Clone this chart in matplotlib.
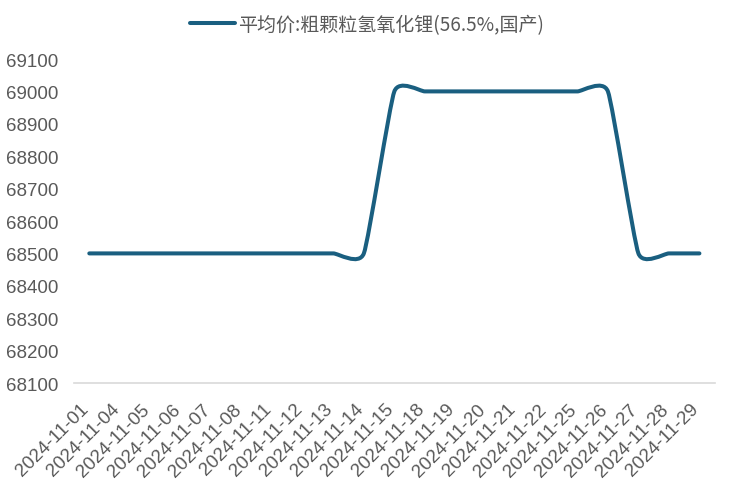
import numpy as np
import matplotlib
matplotlib.use('Agg')
import matplotlib.pyplot as plt
import matplotlib.transforms as mtransforms
from matplotlib.path import Path
from matplotlib.patches import PathPatch
from matplotlib.lines import Line2D

# ==================== 字体设置 ====================
plt.rcParams['font.family'] = ['Liberation Sans', 'Noto Sans CJK SC', 'DejaVu Sans']

# ==================== 数据 ====================
dates = ['2024-11-01', '2024-11-04', '2024-11-05', '2024-11-06', '2024-11-07',
         '2024-11-08', '2024-11-11', '2024-11-12', '2024-11-13', '2024-11-14',
         '2024-11-15', '2024-11-18', '2024-11-19', '2024-11-20', '2024-11-21',
         '2024-11-22', '2024-11-25', '2024-11-26', '2024-11-27', '2024-11-28',
         '2024-11-29']
prices = [68500, 68500, 68500, 68500, 68500,
          68500, 68500, 68500, 68500, 68500,
          69000, 69000, 69000, 69000, 69000,
          69000, 69000, 69000, 68500, 68500,
          68500]
series_name = '平均价:粗颗粒氢氧化锂(56.5%,国产)'
yticks = list(range(68100, 69101, 100))

LINE_COLOR = '#1a5f80'
TEXT_COLOR = '#595959'

# ==================== 平滑曲线（贝塞尔，类似Excel平滑线） ====================
pts = np.column_stack([np.arange(len(prices)), np.array(prices, dtype=float)])
k = 0.48  # 平滑张力
n = len(pts)
verts = [pts[0]]
codes = [Path.MOVETO]
for i in range(n - 1):
    p0 = pts[max(i - 1, 0)]
    p1 = pts[i]
    p2 = pts[i + 1]
    p3 = pts[min(i + 2, n - 1)]
    c1 = p1 + k * (p2 - p0) / 6
    c2 = p2 - k * (p3 - p1) / 6
    verts += [c1, c2, p2]
    codes += [Path.CURVE4] * 3
curve = Path(np.array(verts), codes)

# ==================== 绘图 ====================
fig = plt.figure(figsize=(7.33, 4.89), dpi=100)
ax = fig.add_axes([0.101, 0.2147, 0.874, 0.6626])

patch = PathPatch(curve, fill=False, edgecolor=LINE_COLOR, linewidth=2.9,
                  capstyle='round', joinstyle='round')
ax.add_patch(patch)

ax.set_xlim(-0.5, len(dates) - 0.5)
ax.set_ylim(68100, 69100)

# ==================== 刻度与坐标轴样式 ====================
ax.set_yticks(yticks)
ax.set_yticklabels([str(v) for v in yticks], fontsize=13.5, color=TEXT_COLOR)
ax.set_xticks(range(len(dates)))
ax.set_xticklabels(dates, rotation=45, ha='right', va='baseline',
                   rotation_mode='anchor', fontsize=13.5, color=TEXT_COLOR)
shift = mtransforms.ScaledTranslation(0.04, 0, fig.dpi_scale_trans)
for lbl in ax.get_xticklabels():
    lbl.set_transform(lbl.get_transform() + shift)
ax.tick_params(axis='both', length=0)
ax.tick_params(axis='y', pad=11.5)
ax.tick_params(axis='x', pad=19)

for s in ['left', 'right', 'top']:
    ax.spines[s].set_visible(False)
ax.spines['bottom'].set_color('#d9d9d9')
ax.spines['bottom'].set_linewidth(1.2)

# ==================== 图例 ====================
handle = Line2D([0], [0], color=LINE_COLOR, linewidth=2.9, solid_capstyle='round')
fig.legend(handles=[handle], labels=[series_name], loc='upper center',
           bbox_to_anchor=(0.5, 1.005), frameon=False, handlelength=2.4,
           handletextpad=0.12,
           prop={'family': ['Noto Sans CJK SC', 'DejaVu Sans'], 'size': 13.7},
           labelcolor=TEXT_COLOR)

fig.savefig('out.png', dpi=100)
